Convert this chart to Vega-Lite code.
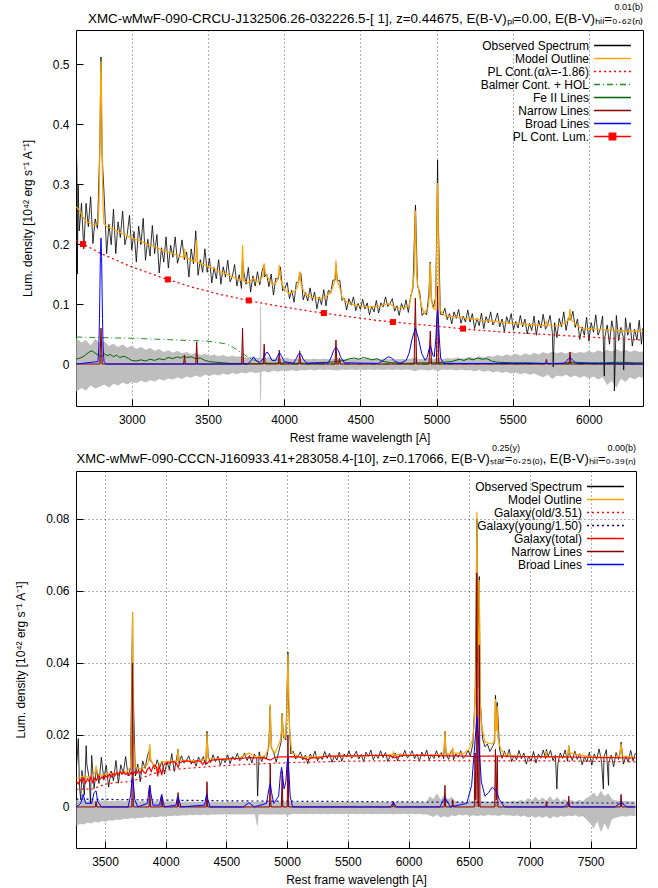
{
"$schema": "https://vega.github.io/schema/vega-lite/v6.json",
"padding": {"left": 14, "top": 2, "right": 14, "bottom": 2},
"config": {
 "font": "Liberation Sans",
 "view": {"stroke": "#000", "strokeWidth": 1},
 "axis": {"labelFont": "Liberation Sans", "labelFontSize": 12, "labelColor": "#000", "titleFont": "Liberation Sans", "titleFontSize": 12, "titleFontWeight": "normal", "titleColor": "#000", "domain": false, "tickColor": "#000", "tickSize": -7, "labelPadding": 14, "gridColor": "#000", "gridDash": [1, 3], "gridOpacity": 0.8, "gridWidth": 0.8}
},
"datasets": {
"t_obs": [{"w":2637,"v":0.35},{"w":2640,"v":0.325},{"w":2643,"v":0.15},{"w":2648,"v":0.30},{"w":2655,"v":0.222},{"w":2670,"v":0.268},{"w":2685,"v":0.192},{"w":2700,"v":0.268},{"w":2715,"v":0.229},{"w":2730,"v":0.279},{"w":2745,"v":0.201},{"w":2760,"v":0.242},{"w":2775,"v":0.226},{"w":2790,"v":0.36},{"w":2796,"v":0.47},{"w":2798,"v":0.512},{"w":2800,"v":0.46},{"w":2805,"v":0.35},{"w":2820,"v":0.275},{"w":2835,"v":0.184},{"w":2850,"v":0.233},{"w":2865,"v":0.199},{"w":2880,"v":0.258},{"w":2895,"v":0.184},{"w":2910,"v":0.237},{"w":2925,"v":0.211},{"w":2940,"v":0.255},{"w":2955,"v":0.199},{"w":2970,"v":0.216},{"w":2985,"v":0.248},{"w":3000,"v":0.190},{"w":3015,"v":0.221},{"w":3030,"v":0.170},{"w":3045,"v":0.230},{"w":3060,"v":0.199},{"w":3075,"v":0.243},{"w":3090,"v":0.173},{"w":3105,"v":0.208},{"w":3120,"v":0.180},{"w":3135,"v":0.231},{"w":3150,"v":0.184},{"w":3165,"v":0.216},{"w":3180,"v":0.152},{"w":3195,"v":0.194},{"w":3210,"v":0.170},{"w":3225,"v":0.212},{"w":3240,"v":0.160},{"w":3255,"v":0.198},{"w":3270,"v":0.178},{"w":3285,"v":0.212},{"w":3300,"v":0.168},{"w":3315,"v":0.182},{"w":3330,"v":0.207},{"w":3345,"v":0.174},{"w":3360,"v":0.187},{"w":3375,"v":0.145},{"w":3390,"v":0.192},{"w":3405,"v":0.167},{"w":3420,"v":0.222},{"w":3435,"v":0.148},{"w":3450,"v":0.174},{"w":3465,"v":0.153},{"w":3480,"v":0.192},{"w":3495,"v":0.153},{"w":3510,"v":0.176},{"w":3525,"v":0.135},{"w":3540,"v":0.161},{"w":3555,"v":0.142},{"w":3570,"v":0.174},{"w":3585,"v":0.133},{"w":3600,"v":0.162},{"w":3615,"v":0.145},{"w":3630,"v":0.173},{"w":3645,"v":0.137},{"w":3660,"v":0.146},{"w":3675,"v":0.166},{"w":3690,"v":0.130},{"w":3705,"v":0.149},{"w":3720,"v":0.126},{"w":3727,"v":0.175},{"w":3735,"v":0.154},{"w":3750,"v":0.133},{"w":3765,"v":0.161},{"w":3780,"v":0.120},{"w":3795,"v":0.147},{"w":3810,"v":0.130},{"w":3825,"v":0.154},{"w":3840,"v":0.132},{"w":3855,"v":0.155},{"w":3868,"v":0.165},{"w":3870,"v":0.145},{"w":3885,"v":0.150},{"w":3900,"v":0.129},{"w":3915,"v":0.150},{"w":3930,"v":0.115},{"w":3945,"v":0.143},{"w":3960,"v":0.141},{"w":3975,"v":0.162},{"w":3990,"v":0.122},{"w":4005,"v":0.126},{"w":4020,"v":0.136},{"w":4035,"v":0.109},{"w":4050,"v":0.123},{"w":4065,"v":0.103},{"w":4080,"v":0.136},{"w":4095,"v":0.137},{"w":4102,"v":0.152},{"w":4110,"v":0.151},{"w":4125,"v":0.107},{"w":4140,"v":0.119},{"w":4155,"v":0.105},{"w":4170,"v":0.127},{"w":4185,"v":0.106},{"w":4200,"v":0.120},{"w":4215,"v":0.092},{"w":4230,"v":0.112},{"w":4245,"v":0.099},{"w":4260,"v":0.124},{"w":4275,"v":0.097},{"w":4290,"v":0.123},{"w":4305,"v":0.118},{"w":4320,"v":0.140},{"w":4335,"v":0.140},{"w":4340,"v":0.165},{"w":4350,"v":0.138},{"w":4365,"v":0.140},{"w":4380,"v":0.106},{"w":4395,"v":0.110},{"w":4410,"v":0.090},{"w":4425,"v":0.109},{"w":4440,"v":0.098},{"w":4455,"v":0.112},{"w":4470,"v":0.089},{"w":4485,"v":0.101},{"w":4500,"v":0.091},{"w":4515,"v":0.108},{"w":4530,"v":0.092},{"w":4545,"v":0.102},{"w":4560,"v":0.082},{"w":4575,"v":0.096},{"w":4590,"v":0.087},{"w":4605,"v":0.106},{"w":4620,"v":0.085},{"w":4635,"v":0.102},{"w":4650,"v":0.095},{"w":4665,"v":0.112},{"w":4680,"v":0.096},{"w":4695,"v":0.101},{"w":4710,"v":0.109},{"w":4725,"v":0.088},{"w":4740,"v":0.097},{"w":4755,"v":0.081},{"w":4770,"v":0.101},{"w":4785,"v":0.091},{"w":4800,"v":0.107},{"w":4815,"v":0.086},{"w":4830,"v":0.113},{"w":4845,"v":0.126},{"w":4860,"v":0.255},{"w":4862,"v":0.265},{"w":4875,"v":0.131},{"w":4890,"v":0.119},{"w":4905,"v":0.081},{"w":4920,"v":0.086},{"w":4935,"v":0.082},{"w":4950,"v":0.118},{"w":4959,"v":0.170},{"w":4965,"v":0.109},{"w":4980,"v":0.095},{"w":4995,"v":0.112},{"w":5005,"v":0.300},{"w":5007,"v":0.340},{"w":5010,"v":0.262},{"w":5025,"v":0.083},{"w":5040,"v":0.082},{"w":5055,"v":0.093},{"w":5070,"v":0.074},{"w":5085,"v":0.084},{"w":5100,"v":0.067},{"w":5115,"v":0.087},{"w":5130,"v":0.076},{"w":5145,"v":0.091},{"w":5160,"v":0.068},{"w":5175,"v":0.080},{"w":5190,"v":0.070},{"w":5205,"v":0.090},{"w":5220,"v":0.070},{"w":5235,"v":0.084},{"w":5250,"v":0.059},{"w":5265,"v":0.076},{"w":5280,"v":0.064},{"w":5295,"v":0.085},{"w":5310,"v":0.059},{"w":5325,"v":0.079},{"w":5340,"v":0.069},{"w":5355,"v":0.087},{"w":5370,"v":0.065},{"w":5385,"v":0.072},{"w":5400,"v":0.085},{"w":5415,"v":0.062},{"w":5430,"v":0.075},{"w":5445,"v":0.054},{"w":5460,"v":0.079},{"w":5475,"v":0.067},{"w":5490,"v":0.084},{"w":5505,"v":0.057},{"w":5520,"v":0.071},{"w":5535,"v":0.060},{"w":5550,"v":0.081},{"w":5565,"v":0.062},{"w":5580,"v":0.075},{"w":5595,"v":0.050},{"w":5610,"v":0.068},{"w":5625,"v":0.056},{"w":5640,"v":0.080},{"w":5655,"v":0.048},{"w":5670,"v":0.073},{"w":5685,"v":0.060},{"w":5700,"v":0.083},{"w":5715,"v":0.058},{"w":5730,"v":0.066},{"w":5745,"v":0.081},{"w":5760,"v":0.053},{"w":5766,"v":-0.005},{"w":5775,"v":0.069},{"w":5790,"v":0.044},{"w":5805,"v":0.076},{"w":5820,"v":0.062},{"w":5835,"v":0.087},{"w":5850,"v":0.056},{"w":5865,"v":0.077},{"w":5880,"v":0.073},{"w":5895,"v":0.088},{"w":5910,"v":0.061},{"w":5925,"v":0.075},{"w":5940,"v":0.041},{"w":5955,"v":0.062},{"w":5970,"v":0.048},{"w":5985,"v":0.078},{"w":6000,"v":0.038},{"w":6015,"v":0.069},{"w":6030,"v":0.053},{"w":6045,"v":0.082},{"w":6060,"v":0.048},{"w":6075,"v":0.059},{"w":6090,"v":0.080},{"w":6101,"v":-0.020},{"w":6105,"v":0.045},{"w":6120,"v":0.065},{"w":6135,"v":0.033},{"w":6150,"v":0.072},{"w":6165,"v":0.053},{"w":6167,"v":-0.045},{"w":6180,"v":0.081},{"w":6195,"v":0.039},{"w":6210,"v":0.061},{"w":6225,"v":0.045},{"w":6228,"v":-0.010},{"w":6240,"v":0.077},{"w":6255,"v":0.048},{"w":6270,"v":0.069},{"w":6285,"v":0.030},{"w":6300,"v":0.058},{"w":6315,"v":0.040},{"w":6330,"v":0.073},{"w":6345,"v":0.033},{"w":6354,"v":0.060}],
"t_mod": [{"w":2636,"v":0.262},{"w":2660,"v":0.255},{"w":2680,"v":0.245},{"w":2700,"v":0.238},{"w":2720,"v":0.236},{"w":2740,"v":0.233},{"w":2760,"v":0.232},{"w":2778,"v":0.234},{"w":2784,"v":0.258},{"w":2788,"v":0.306},{"w":2791,"v":0.365},{"w":2794,"v":0.44},{"w":2796,"v":0.48},{"w":2798,"v":0.505},{"w":2800,"v":0.48},{"w":2802,"v":0.44},{"w":2805,"v":0.365},{"w":2808,"v":0.306},{"w":2812,"v":0.258},{"w":2818,"v":0.234},{"w":2840,"v":0.228},{"w":2870,"v":0.226},{"w":2900,"v":0.222},{"w":2950,"v":0.216},{"w":3000,"v":0.210},{"w":3050,"v":0.206},{"w":3100,"v":0.200},{"w":3150,"v":0.196},{"w":3200,"v":0.190},{"w":3250,"v":0.186},{"w":3300,"v":0.181},{"w":3340,"v":0.178},{"w":3346,"v":0.192},{"w":3352,"v":0.178},{"w":3400,"v":0.172},{"w":3420,"v":0.171},{"w":3426,"v":0.207},{"w":3432,"v":0.170},{"w":3480,"v":0.165},{"w":3530,"v":0.160},{"w":3580,"v":0.154},{"w":3630,"v":0.149},{"w":3680,"v":0.143},{"w":3720,"v":0.140},{"w":3727,"v":0.199},{"w":3734,"v":0.139},{"w":3760,"v":0.135},{"w":3785,"v":0.140},{"w":3800,"v":0.143},{"w":3815,"v":0.137},{"w":3840,"v":0.138},{"w":3860,"v":0.147},{"w":3869,"v":0.168},{"w":3878,"v":0.150},{"w":3889,"v":0.146},{"w":3905,"v":0.140},{"w":3925,"v":0.132},{"w":3950,"v":0.137},{"w":3962,"v":0.146},{"w":3968,"v":0.165},{"w":3976,"v":0.142},{"w":3995,"v":0.128},{"w":4030,"v":0.118},{"w":4070,"v":0.121},{"w":4090,"v":0.130},{"w":4102,"v":0.154},{"w":4112,"v":0.131},{"w":4140,"v":0.115},{"w":4200,"v":0.110},{"w":4260,"v":0.110},{"w":4300,"v":0.118},{"w":4320,"v":0.128},{"w":4333,"v":0.140},{"w":4340,"v":0.173},{"w":4347,"v":0.140},{"w":4363,"v":0.129},{"w":4380,"v":0.112},{"w":4420,"v":0.101},{"w":4480,"v":0.098},{"w":4550,"v":0.095},{"w":4620,"v":0.096},{"w":4686,"v":0.101},{"w":4740,"v":0.093},{"w":4790,"v":0.094},{"w":4820,"v":0.097},{"w":4835,"v":0.116},{"w":4845,"v":0.132},{"w":4853,"v":0.150},{"w":4857,"v":0.202},{"w":4861,"v":0.256},{"w":4865,"v":0.201},{"w":4869,"v":0.149},{"w":4877,"v":0.131},{"w":4887,"v":0.115},{"w":4902,"v":0.096},{"w":4920,"v":0.085},{"w":4945,"v":0.094},{"w":4952,"v":0.113},{"w":4956,"v":0.150},{"w":4959,"v":0.168},{"w":4962,"v":0.150},{"w":4966,"v":0.113},{"w":4975,"v":0.094},{"w":4990,"v":0.091},{"w":4997,"v":0.125},{"w":5002,"v":0.206},{"w":5005,"v":0.288},{"w":5007,"v":0.302},{"w":5009,"v":0.279},{"w":5012,"v":0.203},{"w":5017,"v":0.123},{"w":5024,"v":0.090},{"w":5050,"v":0.081},{"w":5100,"v":0.079},{"w":5150,"v":0.078},{"w":5200,"v":0.076},{"w":5250,"v":0.075},{"w":5300,"v":0.073},{"w":5350,"v":0.072},{"w":5400,"v":0.071},{"w":5450,"v":0.069},{"w":5500,"v":0.068},{"w":5550,"v":0.067},{"w":5600,"v":0.066},{"w":5650,"v":0.065},{"w":5700,"v":0.064},{"w":5715,"v":0.066},{"w":5721,"v":0.072},{"w":5727,"v":0.066},{"w":5760,"v":0.063},{"w":5800,"v":0.064},{"w":5840,"v":0.068},{"w":5860,"v":0.072},{"w":5870,"v":0.075},{"w":5876,"v":0.092},{"w":5882,"v":0.075},{"w":5895,"v":0.071},{"w":5920,"v":0.065},{"w":5950,"v":0.060},{"w":6000,"v":0.059},{"w":6050,"v":0.058},{"w":6100,"v":0.057},{"w":6150,"v":0.057},{"w":6200,"v":0.056},{"w":6250,"v":0.055},{"w":6300,"v":0.055},{"w":6355,"v":0.054}],
"t_gray": [{"w":2636,"v":-0.046,"v2":0.043},{"w":2670,"v":-0.040,"v2":0.036},{"w":2700,"v":-0.044,"v2":0.040},{"w":2730,"v":-0.036,"v2":0.031},{"w":2760,"v":-0.041,"v2":0.042},{"w":2790,"v":-0.038,"v2":0.035},{"w":2820,"v":-0.034,"v2":0.038},{"w":2850,"v":-0.039,"v2":0.030},{"w":2880,"v":-0.033,"v2":0.034},{"w":2910,"v":-0.036,"v2":0.028},{"w":2940,"v":-0.031,"v2":0.033},{"w":2970,"v":-0.034,"v2":0.027},{"w":3000,"v":-0.030,"v2":0.031},{"w":3030,"v":-0.032,"v2":0.025},{"w":3060,"v":-0.028,"v2":0.029},{"w":3090,"v":-0.031,"v2":0.024},{"w":3120,"v":-0.027,"v2":0.027},{"w":3150,"v":-0.029,"v2":0.022},{"w":3180,"v":-0.025,"v2":0.025},{"w":3210,"v":-0.028,"v2":0.020},{"w":3240,"v":-0.024,"v2":0.023},{"w":3270,"v":-0.026,"v2":0.019},{"w":3300,"v":-0.022,"v2":0.022},{"w":3330,"v":-0.025,"v2":0.018},{"w":3360,"v":-0.021,"v2":0.020},{"w":3390,"v":-0.023,"v2":0.016},{"w":3420,"v":-0.019,"v2":0.019},{"w":3450,"v":-0.022,"v2":0.015},{"w":3480,"v":-0.018,"v2":0.017},{"w":3510,"v":-0.020,"v2":0.014},{"w":3540,"v":-0.017,"v2":0.016},{"w":3570,"v":-0.019,"v2":0.013},{"w":3600,"v":-0.016,"v2":0.015},{"w":3630,"v":-0.018,"v2":0.012},{"w":3660,"v":-0.015,"v2":0.014},{"w":3690,"v":-0.017,"v2":0.012},{"w":3720,"v":-0.014,"v2":0.013},{"w":3750,"v":-0.016,"v2":0.011},{"w":3780,"v":-0.013,"v2":0.012},{"w":3810,"v":-0.015,"v2":0.010},{"w":3840,"v":-0.014,"v2":0.011},{"w":3843,"v":-0.065,"v2":0.100},{"w":3848,"v":-0.060,"v2":0.095},{"w":3851,"v":-0.013,"v2":0.010},{"w":3870,"v":-0.012,"v2":0.010},{"w":3900,"v":-0.014,"v2":0.011},{"w":3930,"v":-0.011,"v2":0.009},{"w":3960,"v":-0.013,"v2":0.010},{"w":3990,"v":-0.011,"v2":0.009},{"w":4020,"v":-0.012,"v2":0.010},{"w":4050,"v":-0.010,"v2":0.008},{"w":4080,"v":-0.012,"v2":0.009},{"w":4110,"v":-0.010,"v2":0.008},{"w":4140,"v":-0.011,"v2":0.009},{"w":4170,"v":-0.009,"v2":0.008},{"w":4200,"v":-0.011,"v2":0.009},{"w":4230,"v":-0.009,"v2":0.008},{"w":4260,"v":-0.010,"v2":0.009},{"w":4290,"v":-0.009,"v2":0.008},{"w":4320,"v":-0.010,"v2":0.009},{"w":4350,"v":-0.011,"v2":0.010},{"w":4380,"v":-0.009,"v2":0.008},{"w":4410,"v":-0.010,"v2":0.009},{"w":4440,"v":-0.009,"v2":0.008},{"w":4470,"v":-0.010,"v2":0.009},{"w":4500,"v":-0.009,"v2":0.008},{"w":4530,"v":-0.010,"v2":0.009},{"w":4560,"v":-0.009,"v2":0.008},{"w":4590,"v":-0.010,"v2":0.009},{"w":4620,"v":-0.009,"v2":0.008},{"w":4650,"v":-0.010,"v2":0.009},{"w":4680,"v":-0.009,"v2":0.008},{"w":4710,"v":-0.010,"v2":0.009},{"w":4740,"v":-0.009,"v2":0.008},{"w":4770,"v":-0.010,"v2":0.009},{"w":4800,"v":-0.009,"v2":0.008},{"w":4830,"v":-0.010,"v2":0.009},{"w":4860,"v":-0.012,"v2":0.011},{"w":4890,"v":-0.009,"v2":0.008},{"w":4920,"v":-0.010,"v2":0.009},{"w":4950,"v":-0.011,"v2":0.010},{"w":4980,"v":-0.009,"v2":0.008},{"w":5010,"v":-0.012,"v2":0.011},{"w":5040,"v":-0.009,"v2":0.008},{"w":5070,"v":-0.010,"v2":0.010},{"w":5100,"v":-0.009,"v2":0.009},{"w":5130,"v":-0.011,"v2":0.011},{"w":5160,"v":-0.009,"v2":0.009},{"w":5190,"v":-0.011,"v2":0.010},{"w":5220,"v":-0.010,"v2":0.012},{"w":5250,"v":-0.012,"v2":0.010},{"w":5280,"v":-0.010,"v2":0.013},{"w":5310,"v":-0.013,"v2":0.011},{"w":5340,"v":-0.011,"v2":0.014},{"w":5370,"v":-0.014,"v2":0.012},{"w":5400,"v":-0.012,"v2":0.015},{"w":5430,"v":-0.015,"v2":0.013},{"w":5460,"v":-0.013,"v2":0.016},{"w":5490,"v":-0.016,"v2":0.014},{"w":5520,"v":-0.014,"v2":0.017},{"w":5550,"v":-0.017,"v2":0.014},{"w":5580,"v":-0.015,"v2":0.018},{"w":5610,"v":-0.018,"v2":0.015},{"w":5640,"v":-0.016,"v2":0.019},{"w":5670,"v":-0.019,"v2":0.016},{"w":5700,"v":-0.022,"v2":0.020},{"w":5730,"v":-0.018,"v2":0.017},{"w":5760,"v":-0.025,"v2":0.021},{"w":5790,"v":-0.019,"v2":0.018},{"w":5820,"v":-0.021,"v2":0.020},{"w":5850,"v":-0.018,"v2":0.017},{"w":5880,"v":-0.022,"v2":0.021},{"w":5910,"v":-0.019,"v2":0.018},{"w":5940,"v":-0.023,"v2":0.020},{"w":5970,"v":-0.020,"v2":0.019},{"w":6000,"v":-0.024,"v2":0.022},{"w":6030,"v":-0.021,"v2":0.019},{"w":6060,"v":-0.026,"v2":0.023},{"w":6090,"v":-0.022,"v2":0.020},{"w":6120,"v":-0.035,"v2":0.024},{"w":6150,"v":-0.028,"v2":0.021},{"w":6180,"v":-0.040,"v2":0.025},{"w":6210,"v":-0.024,"v2":0.021},{"w":6240,"v":-0.030,"v2":0.024},{"w":6270,"v":-0.022,"v2":0.020},{"w":6300,"v":-0.026,"v2":0.023},{"w":6330,"v":-0.021,"v2":0.020},{"w":6355,"v":-0.024,"v2":0.021}],
"t_pl": [{"w":2636,"v":0.206},{"w":2800,"v":0.184},{"w":3000,"v":0.162},{"w":3200,"v":0.144},{"w":3400,"v":0.128},{"w":3600,"v":0.115},{"w":3800,"v":0.104},{"w":4000,"v":0.095},{"w":4200,"v":0.087},{"w":4400,"v":0.080},{"w":4600,"v":0.073},{"w":4800,"v":0.068},{"w":5000,"v":0.063},{"w":5200,"v":0.058},{"w":5400,"v":0.054},{"w":5600,"v":0.051},{"w":5800,"v":0.048},{"w":6000,"v":0.045},{"w":6200,"v":0.042},{"w":6355,"v":0.040}],
"t_sq": [{"w":2680,"v":0.200},{"w":3237,"v":0.141},{"w":3768,"v":0.106},{"w":4261,"v":0.085},{"w":4714,"v":0.070},{"w":5174,"v":0.059}],
"t_bal": [{"w":2636,"v":0.045},{"w":2800,"v":0.044},{"w":3000,"v":0.043},{"w":3200,"v":0.041},{"w":3400,"v":0.039},{"w":3500,"v":0.038},{"w":3560,"v":0.036},{"w":3610,"v":0.034},{"w":3645,"v":0.031},{"w":3670,"v":0.027},{"w":3700,"v":0.022},{"w":3730,"v":0.017},{"w":3760,"v":0.012},{"w":3790,"v":0.008},{"w":3820,"v":0.005},{"w":3860,"v":0.002},{"w":3920,"v":0.001},{"w":4000,"v":0.0},{"w":6355,"v":0.0}],
"t_fe": [{"w":2636,"v":0.008},{"w":2660,"v":0.010},{"w":2680,"v":0.012},{"w":2700,"v":0.016},{"w":2720,"v":0.020},{"w":2740,"v":0.022},{"w":2760,"v":0.018},{"w":2780,"v":0.015},{"w":2800,"v":0.012},{"w":2820,"v":0.017},{"w":2840,"v":0.014},{"w":2860,"v":0.016},{"w":2880,"v":0.012},{"w":2900,"v":0.015},{"w":2920,"v":0.011},{"w":2950,"v":0.013},{"w":2980,"v":0.009},{"w":3000,"v":0.006},{"w":3030,"v":0.005},{"w":3060,"v":0.007},{"w":3090,"v":0.005},{"w":3120,"v":0.008},{"w":3150,"v":0.006},{"w":3180,"v":0.009},{"w":3210,"v":0.007},{"w":3240,"v":0.011},{"w":3270,"v":0.009},{"w":3300,"v":0.012},{"w":3320,"v":0.010},{"w":3340,"v":0.013},{"w":3360,"v":0.011},{"w":3390,"v":0.012},{"w":3420,"v":0.009},{"w":3450,"v":0.010},{"w":3480,"v":0.006},{"w":3510,"v":0.004},{"w":3550,"v":0.003},{"w":3600,"v":0.002},{"w":3650,"v":0.001},{"w":3700,"v":0.001},{"w":3800,"v":0.0005},{"w":3900,"v":0.001},{"w":4000,"v":0.002},{"w":4100,"v":0.001},{"w":4200,"v":0.002},{"w":4300,"v":0.003},{"w":4400,"v":0.006},{"w":4430,"v":0.009},{"w":4460,"v":0.010},{"w":4490,"v":0.008},{"w":4520,"v":0.011},{"w":4550,"v":0.009},{"w":4580,"v":0.007},{"w":4610,"v":0.009},{"w":4640,"v":0.005},{"w":4700,"v":0.002},{"w":4800,"v":0.001},{"w":4900,"v":0.002},{"w":5000,"v":0.002},{"w":5100,"v":0.004},{"w":5150,"v":0.008},{"w":5180,"v":0.006},{"w":5210,"v":0.009},{"w":5240,"v":0.007},{"w":5270,"v":0.010},{"w":5300,"v":0.008},{"w":5330,"v":0.009},{"w":5360,"v":0.005},{"w":5400,"v":0.003},{"w":5500,"v":0.002},{"w":5600,"v":0.002},{"w":5700,"v":0.001},{"w":5800,"v":0.001},{"w":5900,"v":0.003},{"w":6000,"v":0.002},{"w":6100,"v":0.002},{"w":6200,"v":0.003},{"w":6300,"v":0.002},{"w":6355,"v":0.002}],
"t_nar": [{"w":2636,"v":0},{"w":2790,"v":0},{"w":2798,"v":0.06},{"w":2806,"v":0},{"w":3340,"v":0},{"w":3346,"v":0.015},{"w":3352,"v":0},{"w":3420,"v":0},{"w":3426,"v":0.037},{"w":3432,"v":0},{"w":3721,"v":0},{"w":3727,"v":0.06},{"w":3733,"v":0},{"w":3863,"v":0},{"w":3869,"v":0.033},{"w":3875,"v":0},{"w":3962,"v":0},{"w":3968,"v":0.023},{"w":3974,"v":0},{"w":4096,"v":0},{"w":4102,"v":0.022},{"w":4108,"v":0},{"w":4334,"v":0},{"w":4340,"v":0.04},{"w":4346,"v":0},{"w":4357,"v":0},{"w":4363,"v":0.01},{"w":4369,"v":0},{"w":4853,"v":0},{"w":4857,"v":0.06},{"w":4861,"v":0.11},{"w":4865,"v":0.06},{"w":4869,"v":0},{"w":4951,"v":0},{"w":4955,"v":0.03},{"w":4959,"v":0.055},{"w":4963,"v":0.03},{"w":4967,"v":0},{"w":4999,"v":0},{"w":5003,"v":0.07},{"w":5007,"v":0.13},{"w":5011,"v":0.07},{"w":5015,"v":0},{"w":5715,"v":0},{"w":5721,"v":0.008},{"w":5727,"v":0},{"w":5870,"v":0},{"w":5876,"v":0.02},{"w":5882,"v":0},{"w":6355,"v":0}],
"t_brd": [{"w":2636,"v":0},{"w":2778,"v":0.004},{"w":2784,"v":0.028},{"w":2788,"v":0.076},{"w":2791,"v":0.127},{"w":2794,"v":0.179},{"w":2798,"v":0.21},{"w":2802,"v":0.179},{"w":2805,"v":0.127},{"w":2808,"v":0.076},{"w":2812,"v":0.028},{"w":2818,"v":0.004},{"w":2830,"v":0},{"w":3760,"v":0},{"w":3785,"v":0.006},{"w":3800,"v":0.012},{"w":3815,"v":0.006},{"w":3840,"v":0.002},{"w":3865,"v":0.01},{"w":3880,"v":0.018},{"w":3889,"v":0.02},{"w":3900,"v":0.016},{"w":3920,"v":0.006},{"w":3945,"v":0.006},{"w":3958,"v":0.014},{"w":3970,"v":0.019},{"w":3982,"v":0.014},{"w":4000,"v":0.004},{"w":4060,"v":0.001},{"w":4080,"v":0.009},{"w":4092,"v":0.016},{"w":4102,"v":0.018},{"w":4112,"v":0.016},{"w":4125,"v":0.008},{"w":4150,"v":0.001},{"w":4290,"v":0.002},{"w":4310,"v":0.012},{"w":4325,"v":0.023},{"w":4340,"v":0.028},{"w":4355,"v":0.023},{"w":4370,"v":0.012},{"w":4395,"v":0.002},{"w":4620,"v":0.001},{"w":4650,"v":0.006},{"w":4670,"v":0.010},{"w":4686,"v":0.012},{"w":4705,"v":0.010},{"w":4725,"v":0.005},{"w":4760,"v":0.001},{"w":4800,"v":0.006},{"w":4820,"v":0.018},{"w":4840,"v":0.042},{"w":4861,"v":0.06},{"w":4882,"v":0.042},{"w":4902,"v":0.018},{"w":4925,"v":0.006},{"w":4940,"v":0.012},{"w":4950,"v":0.024},{"w":4959,"v":0.03},{"w":4966,"v":0.025},{"w":4975,"v":0.015},{"w":4985,"v":0.012},{"w":4995,"v":0.04},{"w":5002,"v":0.075},{"w":5007,"v":0.09},{"w":5012,"v":0.075},{"w":5019,"v":0.04},{"w":5027,"v":0.01},{"w":5045,"v":0.001},{"w":5840,"v":0.001},{"w":5855,"v":0.006},{"w":5876,"v":0.011},{"w":5897,"v":0.006},{"w":5915,"v":0.001},{"w":6355,"v":0}],
"b_obs": [{"w":3262,"v":0.010},{"w":3270,"v":0.0132},{"w":3280,"v":0.019},{"w":3290,"v":0.0056},{"w":3300,"v":0.002},{"w":3310,"v":0.0101},{"w":3330,"v":0.0033},{"w":3345,"v":0.017},{"w":3350,"v":0.0119},{"w":3370,"v":0.0079},{"w":3380,"v":0.001},{"w":3390,"v":0.0143},{"w":3410,"v":0.0051},{"w":3430,"v":0.0106},{"w":3450,"v":0.0065},{"w":3470,"v":0.0138},{"w":3490,"v":0.0077},{"w":3510,"v":0.0116},{"w":3530,"v":0.0055},{"w":3550,"v":0.0100},{"w":3570,"v":0.0073},{"w":3590,"v":0.0129},{"w":3610,"v":0.0066},{"w":3630,"v":0.0117},{"w":3650,"v":0.0093},{"w":3670,"v":0.0140},{"w":3690,"v":0.0086},{"w":3710,"v":0.0107},{"w":3727,"v":0.054},{"w":3730,"v":0.035},{"w":3750,"v":0.0086},{"w":3770,"v":0.0119},{"w":3790,"v":0.0070},{"w":3810,"v":0.0128},{"w":3830,"v":0.0107},{"w":3850,"v":0.0143},{"w":3869,"v":0.016},{"w":3870,"v":0.0129},{"w":3890,"v":0.0123},{"w":3910,"v":0.0105},{"w":3930,"v":0.0131},{"w":3950,"v":0.0108},{"w":3970,"v":0.0127},{"w":3990,"v":0.0091},{"w":4010,"v":0.0126},{"w":4030,"v":0.0105},{"w":4050,"v":0.0148},{"w":4070,"v":0.0099},{"w":4090,"v":0.0135},{"w":4102,"v":0.016},{"w":4110,"v":0.0122},{"w":4130,"v":0.0142},{"w":4150,"v":0.0122},{"w":4170,"v":0.0129},{"w":4190,"v":0.0142},{"w":4210,"v":0.0119},{"w":4230,"v":0.0132},{"w":4250,"v":0.0113},{"w":4270,"v":0.0139},{"w":4290,"v":0.0126},{"w":4310,"v":0.0140},{"w":4330,"v":0.0117},{"w":4340,"v":0.021},{"w":4350,"v":0.0138},{"w":4370,"v":0.0123},{"w":4390,"v":0.0145},{"w":4410,"v":0.0126},{"w":4430,"v":0.0141},{"w":4450,"v":0.0116},{"w":4470,"v":0.0135},{"w":4490,"v":0.0123},{"w":4510,"v":0.0145},{"w":4530,"v":0.0120},{"w":4550,"v":0.0140},{"w":4570,"v":0.0131},{"w":4590,"v":0.0149},{"w":4610,"v":0.0128},{"w":4630,"v":0.0136},{"w":4650,"v":0.0150},{"w":4670,"v":0.0129},{"w":4690,"v":0.0143},{"w":4710,"v":0.0122},{"w":4730,"v":0.0147},{"w":4750,"v":0.0134},{"w":4757,"v":0.003},{"w":4770,"v":0.0153},{"w":4790,"v":0.0126},{"w":4810,"v":0.0141},{"w":4830,"v":0.0133},{"w":4850,"v":0.0174},{"w":4861,"v":0.028},{"w":4870,"v":0.0165},{"w":4890,"v":0.0151},{"w":4910,"v":0.0124},{"w":4930,"v":0.0152},{"w":4950,"v":0.0180},{"w":4959,"v":0.026},{"w":4970,"v":0.0192},{"w":4990,"v":0.0186},{"w":5007,"v":0.043},{"w":5010,"v":0.0306},{"w":5030,"v":0.0147},{"w":5050,"v":0.0155},{"w":5070,"v":0.0133},{"w":5090,"v":0.0140},{"w":5110,"v":0.0153},{"w":5130,"v":0.0131},{"w":5150,"v":0.0144},{"w":5170,"v":0.0120},{"w":5190,"v":0.0147},{"w":5210,"v":0.0137},{"w":5230,"v":0.0155},{"w":5250,"v":0.0128},{"w":5270,"v":0.0142},{"w":5290,"v":0.0132},{"w":5310,"v":0.0154},{"w":5330,"v":0.0135},{"w":5350,"v":0.0149},{"w":5370,"v":0.0124},{"w":5390,"v":0.0142},{"w":5410,"v":0.0130},{"w":5430,"v":0.0152},{"w":5450,"v":0.0127},{"w":5470,"v":0.0147},{"w":5490,"v":0.0138},{"w":5510,"v":0.0156},{"w":5530,"v":0.0135},{"w":5550,"v":0.0142},{"w":5570,"v":0.0155},{"w":5590,"v":0.0133},{"w":5610,"v":0.0146},{"w":5630,"v":0.0126},{"w":5650,"v":0.0152},{"w":5670,"v":0.0140},{"w":5690,"v":0.0158},{"w":5710,"v":0.0131},{"w":5730,"v":0.0145},{"w":5750,"v":0.0135},{"w":5770,"v":0.0156},{"w":5790,"v":0.0137},{"w":5810,"v":0.0151},{"w":5830,"v":0.0126},{"w":5850,"v":0.0144},{"w":5870,"v":0.0135},{"w":5890,"v":0.0150},{"w":5910,"v":0.0128},{"w":5930,"v":0.0148},{"w":5950,"v":0.0139},{"w":5970,"v":0.0157},{"w":5990,"v":0.0136},{"w":6010,"v":0.0143},{"w":6030,"v":0.0156},{"w":6050,"v":0.0134},{"w":6070,"v":0.0147},{"w":6090,"v":0.0127},{"w":6110,"v":0.0152},{"w":6130,"v":0.0140},{"w":6150,"v":0.0158},{"w":6170,"v":0.0131},{"w":6190,"v":0.0145},{"w":6210,"v":0.0135},{"w":6230,"v":0.0156},{"w":6250,"v":0.0137},{"w":6270,"v":0.0151},{"w":6290,"v":0.0134},{"w":6300,"v":0.021},{"w":6310,"v":0.0147},{"w":6330,"v":0.0132},{"w":6350,"v":0.0154},{"w":6364,"v":0.016},{"w":6370,"v":0.0131},{"w":6390,"v":0.0147},{"w":6410,"v":0.0138},{"w":6430,"v":0.0156},{"w":6450,"v":0.0135},{"w":6470,"v":0.0142},{"w":6490,"v":0.0157},{"w":6510,"v":0.0142},{"w":6530,"v":0.0175},{"w":6548,"v":0.030},{"w":6550,"v":0.034},{"w":6563,"v":0.080},{"w":6570,"v":0.040},{"w":6583,"v":0.064},{"w":6590,"v":0.030},{"w":6610,"v":0.019},{"w":6630,"v":0.0167},{"w":6650,"v":0.0175},{"w":6670,"v":0.0154},{"w":6690,"v":0.0166},{"w":6710,"v":0.018},{"w":6716,"v":0.031},{"w":6730,"v":0.022},{"w":6731,"v":0.029},{"w":6750,"v":0.0160},{"w":6770,"v":0.0135},{"w":6790,"v":0.0155},{"w":6810,"v":0.0138},{"w":6830,"v":0.0160},{"w":6850,"v":0.0126},{"w":6870,"v":0.0144},{"w":6890,"v":0.0131},{"w":6910,"v":0.0157},{"w":6930,"v":0.0134},{"w":6950,"v":0.0150},{"w":6970,"v":0.0119},{"w":6990,"v":0.0141},{"w":7010,"v":0.0127},{"w":7030,"v":0.0154},{"w":7050,"v":0.0122},{"w":7070,"v":0.0147},{"w":7090,"v":0.0135},{"w":7110,"v":0.0158},{"w":7130,"v":0.0134},{"w":7136,"v":0.016},{"w":7150,"v":0.0140},{"w":7170,"v":0.0157},{"w":7190,"v":0.0129},{"w":7210,"v":0.0144},{"w":7222,"v":0.005},{"w":7230,"v":0.0119},{"w":7250,"v":0.0150},{"w":7270,"v":0.0135},{"w":7290,"v":0.0158},{"w":7310,"v":0.0127},{"w":7320,"v":0.017},{"w":7330,"v":0.0144},{"w":7350,"v":0.0129},{"w":7370,"v":0.0155},{"w":7390,"v":0.0132},{"w":7410,"v":0.0148},{"w":7430,"v":0.0117},{"w":7450,"v":0.0139},{"w":7470,"v":0.0125},{"w":7490,"v":0.0152},{"w":7510,"v":0.0116},{"w":7530,"v":0.0147},{"w":7550,"v":0.0132},{"w":7570,"v":0.0161},{"w":7590,"v":0.0127},{"w":7605,"v":0.005},{"w":7610,"v":0.0138},{"w":7630,"v":0.0159},{"w":7648,"v":0.006},{"w":7650,"v":0.0124},{"w":7670,"v":0.0144},{"w":7690,"v":0.0112},{"w":7710,"v":0.0151},{"w":7730,"v":0.0132},{"w":7750,"v":0.0165},{"w":7751,"v":0.018},{"w":7770,"v":0.0119},{"w":7790,"v":0.0141},{"w":7810,"v":0.0125},{"w":7830,"v":0.0157},{"w":7850,"v":0.0128},{"w":7870,"v":0.0150}],
"b_mod": [{"w":3265,"v":0.0080},{"w":3300,"v":0.0082},{"w":3320,"v":0.0086},{"w":3340,"v":0.0082},{"w":3400,"v":0.0086},{"w":3420,"v":0.0098},{"w":3426,"v":0.0115},{"w":3432,"v":0.0098},{"w":3450,"v":0.0088},{"w":3500,"v":0.0090},{"w":3600,"v":0.0095},{"w":3680,"v":0.0098},{"w":3710,"v":0.0110},{"w":3720,"v":0.0200},{"w":3727,"v":0.0540},{"w":3734,"v":0.0200},{"w":3745,"v":0.0110},{"w":3800,"v":0.0105},{"w":3850,"v":0.0118},{"w":3862,"v":0.0135},{"w":3869,"v":0.0175},{"w":3876,"v":0.0135},{"w":3895,"v":0.0118},{"w":3934,"v":0.0100},{"w":3950,"v":0.0120},{"w":3968,"v":0.0125},{"w":3990,"v":0.0125},{"w":4050,"v":0.0127},{"w":4095,"v":0.0128},{"w":4102,"v":0.0160},{"w":4109,"v":0.0130},{"w":4200,"v":0.0128},{"w":4300,"v":0.0128},{"w":4333,"v":0.0135},{"w":4340,"v":0.0205},{"w":4347,"v":0.0135},{"w":4400,"v":0.0132},{"w":4500,"v":0.0134},{"w":4600,"v":0.0135},{"w":4686,"v":0.0150},{"w":4750,"v":0.0138},{"w":4820,"v":0.0142},{"w":4850,"v":0.0165},{"w":4856,"v":0.0200},{"w":4861,"v":0.0285},{"w":4866,"v":0.0200},{"w":4875,"v":0.0160},{"w":4900,"v":0.0150},{"w":4940,"v":0.0180},{"w":4954,"v":0.0210},{"w":4959,"v":0.0260},{"w":4964,"v":0.0210},{"w":4980,"v":0.0190},{"w":4995,"v":0.0230},{"w":5002,"v":0.0340},{"w":5007,"v":0.0425},{"w":5012,"v":0.0340},{"w":5020,"v":0.0210},{"w":5040,"v":0.0150},{"w":5100,"v":0.0140},{"w":5200,"v":0.0139},{"w":5400,"v":0.0141},{"w":5600,"v":0.0142},{"w":5800,"v":0.0143},{"w":5870,"v":0.0146},{"w":5876,"v":0.0152},{"w":5882,"v":0.0146},{"w":6000,"v":0.0143},{"w":6200,"v":0.0143},{"w":6280,"v":0.0146},{"w":6294,"v":0.0160},{"w":6300,"v":0.0210},{"w":6306,"v":0.0160},{"w":6320,"v":0.0146},{"w":6358,"v":0.0150},{"w":6364,"v":0.0165},{"w":6370,"v":0.0150},{"w":6450,"v":0.0148},{"w":6500,"v":0.0160},{"w":6530,"v":0.0190},{"w":6543,"v":0.0240},{"w":6548,"v":0.0330},{"w":6553,"v":0.0300},{"w":6558,"v":0.0450},{"w":6563,"v":0.0820},{"w":6568,"v":0.0500},{"w":6575,"v":0.0330},{"w":6583,"v":0.0630},{"w":6590,"v":0.0300},{"w":6600,"v":0.0230},{"w":6630,"v":0.0180},{"w":6680,"v":0.0175},{"w":6705,"v":0.0180},{"w":6711,"v":0.0220},{"w":6716,"v":0.0300},{"w":6721,"v":0.0210},{"w":6726,"v":0.0220},{"w":6731,"v":0.0280},{"w":6737,"v":0.0190},{"w":6760,"v":0.0160},{"w":6800,"v":0.0145},{"w":6900,"v":0.0141},{"w":7000,"v":0.0140},{"w":7130,"v":0.0140},{"w":7136,"v":0.0155},{"w":7142,"v":0.0140},{"w":7300,"v":0.0140},{"w":7315,"v":0.0150},{"w":7320,"v":0.0170},{"w":7325,"v":0.0150},{"w":7500,"v":0.0139},{"w":7700,"v":0.0138},{"w":7740,"v":0.0142},{"w":7751,"v":0.0175},{"w":7760,"v":0.0142},{"w":7870,"v":0.0138}],
"b_old": [{"w":3265,"v":0.0049},{"w":3400,"v":0.0050},{"w":3500,"v":0.0063},{"w":3600,"v":0.0068},{"w":3700,"v":0.0070},{"w":3800,"v":0.0080},{"w":3900,"v":0.0093},{"w":4000,"v":0.0102},{"w":4200,"v":0.0108},{"w":4400,"v":0.0113},{"w":4600,"v":0.0117},{"w":4800,"v":0.0120},{"w":5000,"v":0.0123},{"w":5500,"v":0.0127},{"w":6000,"v":0.0129},{"w":6500,"v":0.0128},{"w":7000,"v":0.0128},{"w":7500,"v":0.0127},{"w":7870,"v":0.0125}],
"b_young": [{"w":3265,"v":0.0022},{"w":3500,"v":0.0021},{"w":4000,"v":0.0019},{"w":4500,"v":0.0017},{"w":5000,"v":0.0016},{"w":5500,"v":0.0015},{"w":6000,"v":0.0014},{"w":6500,"v":0.0013},{"w":7000,"v":0.0012},{"w":7500,"v":0.0011},{"w":7870,"v":0.0011}],
"b_tot": [{"w":3265,"v":0.0070},{"w":3280,"v":0.0064},{"w":3295,"v":0.0076},{"w":3310,"v":0.0068},{"w":3325,"v":0.0080},{"w":3340,"v":0.0066},{"w":3355,"v":0.0078},{"w":3370,"v":0.0071},{"w":3385,"v":0.0083},{"w":3400,"v":0.0068},{"w":3415,"v":0.0080},{"w":3430,"v":0.0074},{"w":3445,"v":0.0086},{"w":3460,"v":0.0077},{"w":3475,"v":0.0084},{"w":3490,"v":0.0076},{"w":3505,"v":0.0087},{"w":3520,"v":0.0081},{"w":3535,"v":0.0091},{"w":3550,"v":0.0083},{"w":3565,"v":0.0093},{"w":3580,"v":0.0086},{"w":3595,"v":0.0095},{"w":3610,"v":0.0089},{"w":3625,"v":0.0098},{"w":3640,"v":0.0091},{"w":3655,"v":0.0097},{"w":3670,"v":0.0090},{"w":3685,"v":0.0094},{"w":3700,"v":0.0088},{"w":3715,"v":0.0096},{"w":3730,"v":0.0090},{"w":3745,"v":0.0098},{"w":3760,"v":0.0093},{"w":3775,"v":0.0101},{"w":3790,"v":0.0094},{"w":3805,"v":0.0104},{"w":3820,"v":0.0097},{"w":3835,"v":0.0093},{"w":3850,"v":0.0105},{"w":3865,"v":0.0110},{"w":3880,"v":0.0098},{"w":3895,"v":0.0112},{"w":3910,"v":0.0116},{"w":3925,"v":0.0110},{"w":3934,"v":0.0085},{"w":3945,"v":0.0112},{"w":3960,"v":0.0100},{"w":3968,"v":0.0088},{"w":3980,"v":0.0113},{"w":3995,"v":0.0120},{"w":4010,"v":0.0124},{"w":4030,"v":0.0122},{"w":4050,"v":0.0126},{"w":4070,"v":0.0125},{"w":4090,"v":0.0120},{"w":4102,"v":0.0110},{"w":4115,"v":0.0122},{"w":4140,"v":0.0127},{"w":4170,"v":0.0128},{"w":4200,"v":0.0126},{"w":4230,"v":0.0123},{"w":4260,"v":0.0129},{"w":4290,"v":0.0125},{"w":4305,"v":0.0118},{"w":4320,"v":0.0126},{"w":4340,"v":0.0120},{"w":4360,"v":0.0128},{"w":4400,"v":0.0131},{"w":4450,"v":0.0132},{"w":4500,"v":0.0133},{"w":4550,"v":0.0135},{"w":4600,"v":0.0134},{"w":4650,"v":0.0136},{"w":4700,"v":0.0137},{"w":4750,"v":0.0136},{"w":4800,"v":0.0137},{"w":4861,"v":0.0130},{"w":4900,"v":0.0138},{"w":4950,"v":0.0139},{"w":5000,"v":0.0139},{"w":5050,"v":0.0140},{"w":5100,"v":0.0139},{"w":5175,"v":0.0131},{"w":5200,"v":0.0137},{"w":5270,"v":0.0136},{"w":5300,"v":0.0140},{"w":5350,"v":0.0141},{"w":5400,"v":0.0141},{"w":5500,"v":0.0142},{"w":5600,"v":0.0142},{"w":5700,"v":0.0143},{"w":5800,"v":0.0143},{"w":5850,"v":0.0142},{"w":5893,"v":0.0137},{"w":5950,"v":0.0143},{"w":6000,"v":0.0143},{"w":6100,"v":0.0143},{"w":6200,"v":0.0143},{"w":6300,"v":0.0142},{"w":6400,"v":0.0142},{"w":6500,"v":0.0141},{"w":6563,"v":0.0138},{"w":6600,"v":0.0141},{"w":6700,"v":0.0141},{"w":6800,"v":0.0141},{"w":6900,"v":0.0140},{"w":7000,"v":0.0140},{"w":7100,"v":0.0140},{"w":7200,"v":0.0139},{"w":7300,"v":0.0139},{"w":7400,"v":0.0138},{"w":7500,"v":0.0138},{"w":7600,"v":0.0137},{"w":7700,"v":0.0137},{"w":7800,"v":0.0136},{"w":7870,"v":0.0136}],
"b_nar": [{"w":3265,"v":0},{"w":3420,"v":0},{"w":3426,"v":0.0015},{"w":3432,"v":0},{"w":3721,"v":0},{"w":3727,"v":0.040},{"w":3733,"v":0},{"w":3863,"v":0},{"w":3869,"v":0.006},{"w":3875,"v":0},{"w":3962,"v":0},{"w":3968,"v":0.003},{"w":3974,"v":0},{"w":4096,"v":0},{"w":4102,"v":0.004},{"w":4108,"v":0},{"w":4334,"v":0},{"w":4340,"v":0.007},{"w":4346,"v":0},{"w":4855,"v":0},{"w":4861,"v":0.012},{"w":4867,"v":0},{"w":4953,"v":0},{"w":4959,"v":0.010},{"w":4965,"v":0},{"w":5001,"v":0},{"w":5007,"v":0.020},{"w":5013,"v":0},{"w":5870,"v":0},{"w":5876,"v":0.0015},{"w":5882,"v":0},{"w":6294,"v":0},{"w":6300,"v":0.006},{"w":6306,"v":0},{"w":6358,"v":0},{"w":6364,"v":0.002},{"w":6370,"v":0},{"w":6542,"v":0},{"w":6548,"v":0.015},{"w":6554,"v":0.002},{"w":6558,"v":0.01},{"w":6563,"v":0.065},{"w":6568,"v":0.01},{"w":6572,"v":0.002},{"w":6577,"v":0.0},{"w":6583,"v":0.045},{"w":6589,"v":0},{"w":6710,"v":0},{"w":6716,"v":0.016},{"w":6723,"v":0.002},{"w":6731,"v":0.014},{"w":6737,"v":0},{"w":7130,"v":0},{"w":7136,"v":0.0015},{"w":7142,"v":0},{"w":7314,"v":0},{"w":7320,"v":0.003},{"w":7326,"v":0},{"w":7745,"v":0},{"w":7751,"v":0.0035},{"w":7757,"v":0},{"w":7870,"v":0}],
"b_brd": [{"w":3265,"v":0},{"w":3300,"v":0.001},{"w":3320,"v":0.0035},{"w":3340,"v":0.001},{"w":3390,"v":0.001},{"w":3410,"v":0.004},{"w":3426,"v":0.0045},{"w":3440,"v":0.0015},{"w":3470,"v":0},{"w":3690,"v":0},{"w":3710,"v":0.003},{"w":3722,"v":0.0075},{"w":3727,"v":0.008},{"w":3733,"v":0.007},{"w":3745,"v":0.002},{"w":3770,"v":0},{"w":3850,"v":0.001},{"w":3862,"v":0.005},{"w":3869,"v":0.006},{"w":3877,"v":0.004},{"w":3895,"v":0.0005},{"w":3950,"v":0.0005},{"w":3962,"v":0.003},{"w":3968,"v":0.0035},{"w":3975,"v":0.002},{"w":3990,"v":0},{"w":4085,"v":0.0005},{"w":4095,"v":0.0025},{"w":4102,"v":0.003},{"w":4110,"v":0.002},{"w":4125,"v":0},{"w":4320,"v":0.0005},{"w":4333,"v":0.003},{"w":4340,"v":0.0035},{"w":4348,"v":0.002},{"w":4365,"v":0},{"w":4640,"v":0},{"w":4686,"v":0.0012},{"w":4730,"v":0},{"w":4830,"v":0.001},{"w":4850,"v":0.005},{"w":4861,"v":0.0065},{"w":4872,"v":0.004},{"w":4890,"v":0.001},{"w":4930,"v":0.003},{"w":4945,"v":0.009},{"w":4955,"v":0.011},{"w":4962,"v":0.009},{"w":4975,"v":0.005},{"w":4990,"v":0.007},{"w":5000,"v":0.0125},{"w":5007,"v":0.0135},{"w":5014,"v":0.0105},{"w":5025,"v":0.003},{"w":5045,"v":0},{"w":5850,"v":0},{"w":5876,"v":0.0012},{"w":5900,"v":0},{"w":6260,"v":0},{"w":6280,"v":0.0015},{"w":6300,"v":0.0025},{"w":6320,"v":0.0015},{"w":6345,"v":0},{"w":6480,"v":0.001},{"w":6520,"v":0.006},{"w":6545,"v":0.017},{"w":6563,"v":0.025},{"w":6580,"v":0.017},{"w":6600,"v":0.007},{"w":6630,"v":0.003},{"w":6660,"v":0.004},{"w":6690,"v":0.0055},{"w":6720,"v":0.0045},{"w":6750,"v":0.002},{"w":6790,"v":0},{"w":7280,"v":0},{"w":7310,"v":0.0008},{"w":7340,"v":0},{"w":7700,"v":0},{"w":7750,"v":0.0012},{"w":7800,"v":0},{"w":7870,"v":0}],
"b_gray": [{"w":3265,"v":-0.0052,"v2":0.0019},{"w":3295,"v":-0.0047,"v2":0.0017},{"w":3325,"v":-0.0049,"v2":0.0020},{"w":3355,"v":-0.0044,"v2":0.0016},{"w":3385,"v":-0.0046,"v2":0.0019},{"w":3415,"v":-0.0041,"v2":0.0017},{"w":3445,"v":-0.0043,"v2":0.0020},{"w":3475,"v":-0.0039,"v2":0.0016},{"w":3505,"v":-0.0041,"v2":0.0019},{"w":3535,"v":-0.0037,"v2":0.0016},{"w":3565,"v":-0.0038,"v2":0.0018},{"w":3595,"v":-0.0035,"v2":0.0016},{"w":3625,"v":-0.0036,"v2":0.0018},{"w":3655,"v":-0.0033,"v2":0.0015},{"w":3685,"v":-0.0034,"v2":0.0018},{"w":3715,"v":-0.0031,"v2":0.0016},{"w":3745,"v":-0.0033,"v2":0.0018},{"w":3775,"v":-0.0030,"v2":0.0015},{"w":3805,"v":-0.0031,"v2":0.0017},{"w":3835,"v":-0.0028,"v2":0.0015},{"w":3865,"v":-0.0030,"v2":0.0017},{"w":3895,"v":-0.0027,"v2":0.0015},{"w":3925,"v":-0.0029,"v2":0.0017},{"w":3955,"v":-0.0026,"v2":0.0015},{"w":3985,"v":-0.0027,"v2":0.0016},{"w":4015,"v":-0.0025,"v2":0.0015},{"w":4045,"v":-0.0026,"v2":0.0016},{"w":4075,"v":-0.0024,"v2":0.0014},{"w":4105,"v":-0.0025,"v2":0.0016},{"w":4135,"v":-0.0023,"v2":0.0014},{"w":4165,"v":-0.0024,"v2":0.0016},{"w":4195,"v":-0.0022,"v2":0.0014},{"w":4225,"v":-0.0023,"v2":0.0015},{"w":4255,"v":-0.0022,"v2":0.0014},{"w":4285,"v":-0.0023,"v2":0.0015},{"w":4315,"v":-0.0021,"v2":0.0014},{"w":4345,"v":-0.0023,"v2":0.0016},{"w":4375,"v":-0.0021,"v2":0.0014},{"w":4405,"v":-0.0022,"v2":0.0015},{"w":4435,"v":-0.0020,"v2":0.0014},{"w":4465,"v":-0.0021,"v2":0.0015},{"w":4495,"v":-0.0020,"v2":0.0014},{"w":4525,"v":-0.0021,"v2":0.0015},{"w":4555,"v":-0.0020,"v2":0.0014},{"w":4585,"v":-0.0021,"v2":0.0015},{"w":4615,"v":-0.0020,"v2":0.0014},{"w":4645,"v":-0.0021,"v2":0.0015},{"w":4675,"v":-0.0020,"v2":0.0014},{"w":4705,"v":-0.0021,"v2":0.0015},{"w":4735,"v":-0.0020,"v2":0.0014},{"w":4752,"v":-0.0052,"v2":0.0014},{"w":4760,"v":-0.0050,"v2":0.0014},{"w":4765,"v":-0.0021,"v2":0.0015},{"w":4795,"v":-0.0020,"v2":0.0014},{"w":4825,"v":-0.0021,"v2":0.0015},{"w":4855,"v":-0.0022,"v2":0.0016},{"w":4885,"v":-0.0020,"v2":0.0014},{"w":4915,"v":-0.0021,"v2":0.0015},{"w":4945,"v":-0.0022,"v2":0.0016},{"w":4975,"v":-0.0020,"v2":0.0014},{"w":5005,"v":-0.0023,"v2":0.0017},{"w":5035,"v":-0.0020,"v2":0.0014},{"w":5065,"v":-0.0019,"v2":0.0014},{"w":5095,"v":-0.0020,"v2":0.0014},{"w":5125,"v":-0.0019,"v2":0.0013},{"w":5155,"v":-0.0020,"v2":0.0014},{"w":5185,"v":-0.0019,"v2":0.0013},{"w":5215,"v":-0.0020,"v2":0.0014},{"w":5245,"v":-0.0019,"v2":0.0013},{"w":5275,"v":-0.0020,"v2":0.0014},{"w":5305,"v":-0.0019,"v2":0.0013},{"w":5335,"v":-0.0020,"v2":0.0014},{"w":5365,"v":-0.0019,"v2":0.0013},{"w":5395,"v":-0.0020,"v2":0.0014},{"w":5425,"v":-0.0019,"v2":0.0013},{"w":5455,"v":-0.0020,"v2":0.0014},{"w":5485,"v":-0.0019,"v2":0.0013},{"w":5515,"v":-0.0020,"v2":0.0014},{"w":5545,"v":-0.0019,"v2":0.0013},{"w":5575,"v":-0.0020,"v2":0.0014},{"w":5605,"v":-0.0019,"v2":0.0013},{"w":5635,"v":-0.0020,"v2":0.0014},{"w":5665,"v":-0.0019,"v2":0.0013},{"w":5695,"v":-0.0020,"v2":0.0014},{"w":5725,"v":-0.0019,"v2":0.0013},{"w":5755,"v":-0.0020,"v2":0.0014},{"w":5785,"v":-0.0019,"v2":0.0013},{"w":5815,"v":-0.0020,"v2":0.0014},{"w":5845,"v":-0.0019,"v2":0.0013},{"w":5875,"v":-0.0021,"v2":0.0015},{"w":5905,"v":-0.0019,"v2":0.0013},{"w":5935,"v":-0.0020,"v2":0.0014},{"w":5965,"v":-0.0019,"v2":0.0013},{"w":5995,"v":-0.0020,"v2":0.0014},{"w":6025,"v":-0.0019,"v2":0.0013},{"w":6055,"v":-0.0020,"v2":0.0014},{"w":6085,"v":-0.0019,"v2":0.0013},{"w":6115,"v":-0.0021,"v2":0.0014},{"w":6145,"v":-0.0020,"v2":0.0013},{"w":6175,"v":-0.0024,"v2":0.0030},{"w":6205,"v":-0.0028,"v2":0.0022},{"w":6235,"v":-0.0022,"v2":0.0038},{"w":6265,"v":-0.0030,"v2":0.0020},{"w":6295,"v":-0.0025,"v2":0.0035},{"w":6325,"v":-0.0029,"v2":0.0021},{"w":6355,"v":-0.0023,"v2":0.0028},{"w":6385,"v":-0.0026,"v2":0.0016},{"w":6415,"v":-0.0022,"v2":0.0014},{"w":6445,"v":-0.0024,"v2":0.0015},{"w":6475,"v":-0.0022,"v2":0.0014},{"w":6505,"v":-0.0025,"v2":0.0016},{"w":6535,"v":-0.0023,"v2":0.0015},{"w":6565,"v":-0.0026,"v2":0.0017},{"w":6595,"v":-0.0023,"v2":0.0015},{"w":6625,"v":-0.0025,"v2":0.0016},{"w":6655,"v":-0.0022,"v2":0.0014},{"w":6685,"v":-0.0024,"v2":0.0016},{"w":6715,"v":-0.0023,"v2":0.0015},{"w":6745,"v":-0.0025,"v2":0.0016},{"w":6775,"v":-0.0022,"v2":0.0014},{"w":6805,"v":-0.0024,"v2":0.0016},{"w":6835,"v":-0.0023,"v2":0.0015},{"w":6865,"v":-0.0026,"v2":0.0018},{"w":6895,"v":-0.0023,"v2":0.0015},{"w":6925,"v":-0.0027,"v2":0.0020},{"w":6955,"v":-0.0024,"v2":0.0016},{"w":6985,"v":-0.0029,"v2":0.0024},{"w":7015,"v":-0.0025,"v2":0.0017},{"w":7045,"v":-0.0030,"v2":0.0028},{"w":7075,"v":-0.0026,"v2":0.0018},{"w":7105,"v":-0.0031,"v2":0.0026},{"w":7135,"v":-0.0025,"v2":0.0017},{"w":7165,"v":-0.0033,"v2":0.0030},{"w":7195,"v":-0.0026,"v2":0.0018},{"w":7225,"v":-0.0030,"v2":0.0027},{"w":7255,"v":-0.0025,"v2":0.0016},{"w":7285,"v":-0.0027,"v2":0.0022},{"w":7315,"v":-0.0024,"v2":0.0016},{"w":7345,"v":-0.0026,"v2":0.0019},{"w":7375,"v":-0.0023,"v2":0.0015},{"w":7405,"v":-0.0028,"v2":0.0020},{"w":7435,"v":-0.0025,"v2":0.0016},{"w":7465,"v":-0.0035,"v2":0.0025},{"w":7495,"v":-0.0045,"v2":0.0030},{"w":7525,"v":-0.0060,"v2":0.0040},{"w":7555,"v":-0.0040,"v2":0.0028},{"w":7585,"v":-0.0070,"v2":0.0045},{"w":7615,"v":-0.0045,"v2":0.0030},{"w":7645,"v":-0.0065,"v2":0.0038},{"w":7675,"v":-0.0035,"v2":0.0022},{"w":7705,"v":-0.0030,"v2":0.0018},{"w":7735,"v":-0.0027,"v2":0.0017},{"w":7765,"v":-0.0025,"v2":0.0016},{"w":7795,"v":-0.0027,"v2":0.0017},{"w":7825,"v":-0.0024,"v2":0.0015},{"w":7855,"v":-0.0026,"v2":0.0016},{"w":7870,"v":-0.0024,"v2":0.0015}]
},
"concat": [
{
 "width": 567, "height": 376,
 "title": {"text": "0.01(b)", "subtitle": "XMC-wMwF-090-CRCU-J132506.26-032226.5-[ 1], z=0.44675, E(B-V)ₚₗ=0.00, E(B-V)ₕᵢᵢ=₀.₆₂₍ₙ₎", "anchor": "end", "frame": "group", "font": "Liberation Sans", "fontSize": 9, "fontWeight": "normal", "color": "#000", "subtitleFont": "Liberation Sans", "subtitleFontSize": 13.4, "subtitleColor": "#000", "subtitlePadding": 0, "offset": 5},
 "encoding": {
  "x": {"field": "w", "type": "quantitative", "scale": {"domain": [2634, 6355], "nice": false, "zero": false}, "axis": {"title": "Rest frame wavelength [A]", "values": [3000, 3500, 4000, 4500, 5000, 5500, 6000], "format": "d", "grid": true, "labelPadding": 15, "titlePadding": 7}},
  "y": {"field": "v", "type": "quantitative", "scale": {"domain": [-0.07, 0.557], "nice": false, "zero": false}, "axis": {"title": "Lum. density [10⁴² erg s⁻¹ A⁻¹]", "values": [0, 0.1, 0.2, 0.3, 0.4, 0.5], "format": "~g", "grid": false, "labelPadding": 14, "titlePadding": 18}}
 },
 "layer": [
  {"data": {"name": "t_gray"}, "mark": {"type": "area", "color": "#bebebe", "clip": true}, "encoding": {"y2": {"field": "v2"}}},
  {"data": {"name": "t_obs"}, "mark": {"type": "line", "strokeWidth": 0.8, "clip": true}, "encoding": {"color": {"datum": "Observed Spectrum", "type": "nominal", "scale": {"domain": ["Observed Spectrum", "Model Outline", "PL Cont.(αλ=-1.86)", "Balmer Cont. + HOL", "Fe II Lines", "Narrow Lines", "Broad Lines", "PL Cont. Lum."], "range": ["#000000", "#ffa500", "#ff0000", "#228b22", "#006400", "#8b0000", "#0000ff", "#ff0000"]}, "legend": {"title": null, "orient": "top-right", "offset": 9, "padding": 0, "fillColor": "white", "symbolType": "stroke", "symbolSize": 121, "symbolStrokeWidth": 1.3, "rowPadding": -0.5, "labelFont": "Liberation Sans", "labelFontSize": 12, "labelColor": "#000", "labelAlign": "right", "labelOffset": -44, "labelLimit": 300, "encode": {"symbols": {"update": {"strokeDash": {"signal": "datum.value == 'PL Cont.(αλ=-1.86)' ? [2,3] : datum.value == 'Balmer Cont. + HOL' ? [6,3,1,3] : [1,0]"}, "shape": {"signal": "datum.value == 'PL Cont. Lum.' ? 'M-5.9,0H0.8M-3.15,-0.6H-1.95V0.6H-3.15Z' : 'M-5.9,0H0.8'"}, "fill": {"signal": "datum.value == 'PL Cont. Lum.' ? '#ff0000' : 'transparent'"}, "stroke": {"signal": "datum.value == 'Observed Spectrum' ? '#000000' : datum.value == 'Model Outline' ? '#ffa500' : datum.value == 'Balmer Cont. + HOL' ? '#228b22' : datum.value == 'Fe II Lines' ? '#006400' : datum.value == 'Narrow Lines' ? '#a03030' : datum.value == 'Broad Lines' ? '#0000ff' : '#ff0000'"}, "opacity": {"value": 1}}}}}}}},
  {"data": {"name": "t_bal"}, "mark": {"type": "line", "strokeWidth": 1, "strokeDash": [6, 3, 1, 3], "clip": true}, "encoding": {"color": {"datum": "Balmer Cont. + HOL", "type": "nominal"}}},
  {"data": {"name": "t_fe"}, "mark": {"type": "line", "strokeWidth": 1, "clip": true}, "encoding": {"color": {"datum": "Fe II Lines", "type": "nominal"}}},
  {"data": {"name": "t_nar"}, "mark": {"type": "area", "color": "#8b0000", "opacity": 0.3, "clip": true}, "encoding": {"y2": {"datum": 0}}},
  {"data": {"name": "t_nar"}, "mark": {"type": "line", "strokeWidth": 1, "clip": true}, "encoding": {"color": {"datum": "Narrow Lines", "type": "nominal"}}},
  {"data": {"name": "t_brd"}, "mark": {"type": "line", "strokeWidth": 1, "clip": true}, "encoding": {"color": {"datum": "Broad Lines", "type": "nominal"}}},
  {"data": {"name": "t_mod"}, "mark": {"type": "line", "strokeWidth": 1.2, "clip": true}, "encoding": {"color": {"datum": "Model Outline", "type": "nominal"}}},
  {"data": {"name": "t_pl"}, "mark": {"type": "line", "strokeWidth": 1.3, "strokeDash": [2, 3], "clip": true}, "encoding": {"color": {"datum": "PL Cont.(αλ=-1.86)", "type": "nominal"}}},
  {"data": {"name": "t_sq"}, "mark": {"type": "point", "shape": "square", "filled": true, "opacity": 1, "size": 36, "clip": true}, "encoding": {"color": {"datum": "PL Cont. Lum.", "type": "nominal"}}}
 ]
},
{
 "width": 560, "height": 377,
 "title": {"text": "0.25(y)\u00a0\u00a0\u00a0\u00a0\u00a0\u00a0\u00a0\u00a0\u00a0\u00a0\u00a0\u00a0\u00a0\u00a0\u00a0\u00a0\u00a0\u00a0\u00a0\u00a0\u00a0\u00a0\u00a0\u00a0\u00a0\u00a0\u00a0\u00a0\u00a0\u00a0\u00a0\u00a0\u00a0\u00a0\u00a00.00(b)", "subtitle": "XMC-wMwF-090-CCCN-J160933.41+283058.4-[10], z=0.17066, E(B-V)ₛₜₐᵣ=₀.₂₅₍ₒ₎, E(B-V)ₕᵢᵢ=₀.₃₉₍ₙ₎", "anchor": "end", "frame": "group", "font": "Liberation Sans", "fontSize": 9, "fontWeight": "normal", "color": "#000", "subtitleFont": "Liberation Sans", "subtitleFontSize": 13, "subtitleColor": "#000", "subtitlePadding": 0, "offset": 5},
 "encoding": {
  "x": {"field": "w", "type": "quantitative", "scale": {"domain": [3261, 7874], "nice": false, "zero": false}, "axis": {"title": "Rest frame wavelength [A]", "values": [3500, 4000, 4500, 5000, 5500, 6000, 6500, 7000, 7500], "format": "d", "grid": true, "labelPadding": 15, "titlePadding": 7}},
  "y": {"field": "v", "type": "quantitative", "scale": {"domain": [-0.0114, 0.0933], "nice": false, "zero": false}, "axis": {"title": "Lum. density [10⁴² erg s⁻¹ A⁻¹]", "values": [0, 0.02, 0.04, 0.06, 0.08], "format": "~g", "grid": true, "labelPadding": 14, "titlePadding": 18}}
 },
 "layer": [
  {"data": {"name": "b_gray"}, "mark": {"type": "area", "color": "#bebebe", "clip": true}, "encoding": {"y2": {"field": "v2"}}},
  {"data": {"name": "b_obs"}, "mark": {"type": "line", "strokeWidth": 0.8, "clip": true}, "encoding": {"color": {"datum": "Observed Spectrum", "type": "nominal", "scale": {"domain": ["Observed Spectrum", "Model Outline", "Galaxy(old/3.51)", "Galaxy(young/1.50)", "Galaxy(total)", "Narrow Lines", "Broad Lines"], "range": ["#000000", "#ffa500", "#ff0000", "#00008b", "#ff0000", "#8b0000", "#0000ff"]}, "legend": {"title": null, "orient": "top-right", "offset": 9, "padding": 0, "symbolType": "stroke", "symbolSize": 121, "symbolStrokeWidth": 1.3, "rowPadding": -0.5, "labelFont": "Liberation Sans", "labelFontSize": 12, "labelColor": "#000", "labelAlign": "right", "labelOffset": -44, "labelLimit": 300, "encode": {"symbols": {"update": {"strokeDash": {"signal": "datum.value == 'Galaxy(old/3.51)' || datum.value == 'Galaxy(young/1.50)' ? [2,3] : [1,0]"}, "shape": {"value": "M-5.9,0H0.8"}, "fill": {"value": "transparent"}, "stroke": {"signal": "datum.value == 'Observed Spectrum' ? '#000000' : datum.value == 'Model Outline' ? '#ffa500' : datum.value == 'Galaxy(young/1.50)' ? '#00008b' : datum.value == 'Narrow Lines' ? '#a03030' : datum.value == 'Broad Lines' ? '#0000ff' : '#ff0000'"}, "opacity": {"value": 1}}}}}}}},
  {"data": {"name": "b_mod"}, "mark": {"type": "line", "strokeWidth": 1.2, "clip": true}, "encoding": {"color": {"datum": "Model Outline", "type": "nominal"}}},
  {"data": {"name": "b_old"}, "mark": {"type": "line", "strokeWidth": 1.2, "strokeDash": [2, 3], "clip": true}, "encoding": {"color": {"datum": "Galaxy(old/3.51)", "type": "nominal"}}},
  {"data": {"name": "b_young"}, "mark": {"type": "line", "strokeWidth": 1.2, "strokeDash": [2, 3], "clip": true}, "encoding": {"color": {"datum": "Galaxy(young/1.50)", "type": "nominal"}}},
  {"data": {"name": "b_tot"}, "mark": {"type": "line", "strokeWidth": 1.2, "clip": true}, "encoding": {"color": {"datum": "Galaxy(total)", "type": "nominal"}}},
  {"data": {"name": "b_nar"}, "mark": {"type": "area", "color": "#8b0000", "opacity": 0.3, "clip": true}, "encoding": {"y2": {"datum": 0}}},
  {"data": {"name": "b_nar"}, "mark": {"type": "line", "strokeWidth": 1, "clip": true}, "encoding": {"color": {"datum": "Narrow Lines", "type": "nominal"}}},
  {"data": {"name": "b_brd"}, "mark": {"type": "line", "strokeWidth": 1, "clip": true}, "encoding": {"color": {"datum": "Broad Lines", "type": "nominal"}}}
 ]
}
],
"columns": 1,
"align": "none",
"spacing": -1,
"resolve": {"scale": {"color": "independent"}, "legend": {"color": "independent"}}
}
